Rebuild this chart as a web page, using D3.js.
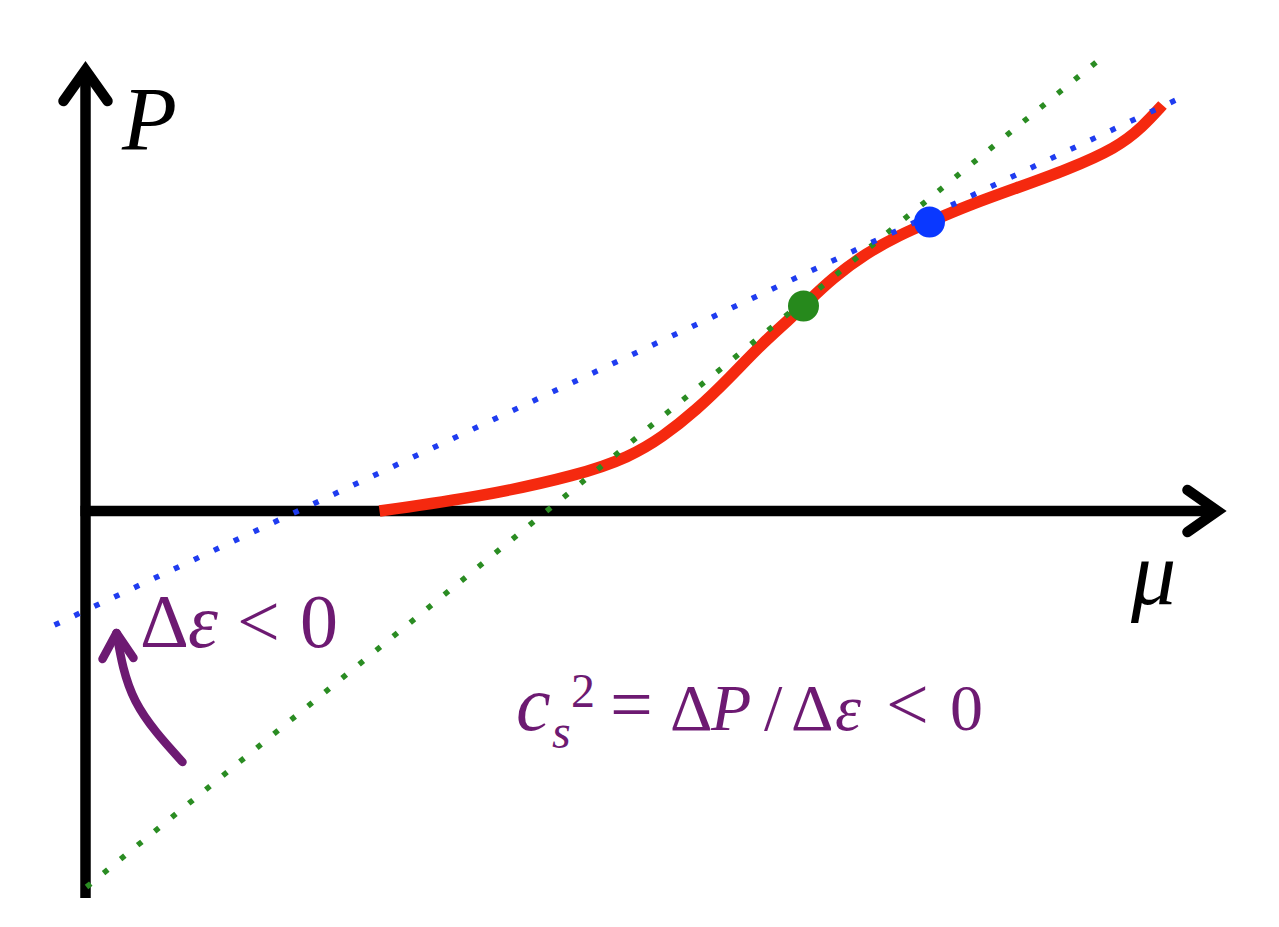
<!DOCTYPE html>
<html>
<head>
<meta charset="utf-8">
<script src="https://cdn.jsdelivr.net/npm/d3@7"></script>
<style>
  html, body { margin: 0; padding: 0; background: #fff; }
  svg { display: block; }
  text { font-family: "Liberation Serif", "Times New Roman", serif; }
</style>
</head>
<body>
<svg id="svg1" width="1279" height="927"></svg>
<script>
(function(){
    'use strict';

    // Red P(mu) curve
    const muCurve = [2.94, 3.94, 4.94, 5.44, 5.77, 6.11, 6.44, 6.77, 7.11, 7.21, 7.47, 7.81, 8.14, 8.44, 8.81, 9.31, 9.81, 10.31, 10.57, 10.77];
    const pCurve  = [0.00, 0.14, 0.36, 0.54, 0.74, 1.01, 1.33, 1.68, 1.98, 2.08, 2.33, 2.58, 2.76, 2.89, 3.05, 3.23, 3.41, 3.63, 3.84, 4.06];

    // Dotted tangent lines (end points)
    const muGreen = [0.01, 10.17];
    const pGreen  = [-3.76, 4.54];
    const muBlue  = [-0.31, 10.99];
    const pBlue   = [-1.14, 4.15];

    // Marked points
    const muPoints = [7.18, 8.44];
    const pPoints  = [2.05, 2.89];
    const pointColors = ['#26891c', '#0a38ff'];

    // Annotation arrow path (in mu, P units)
    const muNote = [0.97, 0.50, 0.31];
    const pNote  = [-2.51, -1.90, -1.22];

    // Axis extents
    const muAxis = [-0.05, 11.32];
    const pAxis  = [-3.87, 4.41];

    const purple = '#6d1a72';

    const x = d3.scaleLinear().domain([0, 11.42]).range([85.5, 1227.5]);
    const y = d3.scaleLinear().domain([-3.87, 4.51]).range([898, 60]);

    const svg = d3.select('#svg1');
    const zip = (a, b) => a.map((v, i) => [v, b[i]]);

    // Axes
    const axes = svg.append('g')
        .attr('stroke', '#000')
        .attr('stroke-width', 10.5)
        .attr('fill', 'none');

    axes.append('line')
        .attr('x1', x(0)).attr('x2', x(0))
        .attr('y1', y(pAxis[0])).attr('y2', y(pAxis[1]));
    axes.append('line')
        .attr('x1', x(muAxis[0])).attr('x2', x(muAxis[1]))
        .attr('y1', y(0)).attr('y2', y(0));

    // Arrow heads
    const vx = x(0), vy = y(pAxis[1]);
    axes.append('path')
        .attr('d', `M${vx - 22},${vy + 31}L${vx},${vy}L${vx + 22},${vy + 31}`)
        .attr('stroke-linecap', 'round')
        .attr('stroke-linejoin', 'miter');
    const hx = x(muAxis[1]), hy = y(0);
    axes.append('path')
        .attr('d', `M${hx - 30},${hy - 21}L${hx},${hy}L${hx - 30},${hy + 21}`)
        .attr('stroke-linecap', 'round')
        .attr('stroke-linejoin', 'miter');

    // Red curve
    const line = d3.line()
        .x(d => x(d[0]))
        .y(d => y(d[1]))
        .curve(d3.curveBasis);

    svg.append('path')
        .datum(zip(muCurve, pCurve))
        .attr('d', line)
        .attr('fill', 'none')
        .attr('stroke', '#f5290f')
        .attr('stroke-width', 11.5);

    // Dotted lines
    const straight = d3.line().x(d => x(d[0])).y(d => y(d[1]));
    [[muGreen, pGreen, '#2a8c22'], [muBlue, pBlue, '#1f3cf0']].forEach(([m, p, c]) => {
        svg.append('path')
            .datum(zip(m, p))
            .attr('d', straight)
            .attr('fill', 'none')
            .attr('stroke', c)
            .attr('stroke-width', 5.5)
            .attr('stroke-dasharray', '5.5 16.5');
    });

    // Points
    svg.append('g')
        .selectAll('circle')
        .data(zip(muPoints, pPoints))
        .enter()
        .append('circle')
            .attr('cx', d => x(d[0]))
            .attr('cy', d => y(d[1]))
            .attr('r', 15.5)
            .attr('fill', (d, i) => pointColors[i]);

    // Purple annotation arrow
    svg.append('path')
        .datum(zip(muNote, pNote))
        .attr('d', d3.line().x(d => x(d[0])).y(d => y(d[1])).curve(d3.curveNatural))
        .attr('fill', 'none')
        .attr('stroke', purple)
        .attr('stroke-width', 8.5)
        .attr('stroke-linecap', 'round');
    const tx = x(muNote[2]), ty = y(pNote[2]);
    svg.append('path')
        .attr('d', `M${tx - 14},${ty + 26}L${tx},${ty}L${tx + 17},${ty + 25}`)
        .attr('fill', 'none')
        .attr('stroke', purple)
        .attr('stroke-width', 8.5)
        .attr('stroke-linecap', 'round')
        .attr('stroke-linejoin', 'round');

    // Axis labels
    svg.append('text')
        .attr('x', 122).attr('y', 150)
        .attr('font-size', 90)
        .attr('font-style', 'italic')
        .text('P');
    svg.append('text')
        .attr('x', 1131).attr('y', 604)
        .attr('font-size', 90)
        .attr('font-style', 'italic')
        .text('μ');

    // Δε < 0
    const t1 = svg.append('text')
        .attr('y', 647)
        .attr('fill', purple)
        .attr('font-size', 76);
    t1.append('tspan').attr('x', 140).text('Δ');
    t1.append('tspan').attr('x', 188).attr('font-style', 'italic').text('ε');
    t1.append('tspan').attr('x', 237).text('<');
    t1.append('tspan').attr('x', 300).text('0');

    // c_s^2 = ΔP/Δε < 0
    const t2 = svg.append('text')
        .attr('y', 730)
        .attr('fill', purple)
        .attr('font-size', 66);
    t2.append('tspan').attr('x', 516).attr('font-size', 78).attr('font-style', 'italic').text('c');
    t2.append('tspan').attr('x', 552).attr('y', 748).attr('font-size', 48).attr('font-style', 'italic').text('s');
    t2.append('tspan').attr('x', 571).attr('y', 707).attr('font-size', 48).text('2');
    t2.append('tspan').attr('x', 610).attr('y', 730).attr('font-size', 76).text('=');
    t2.append('tspan').attr('x', 670).text('Δ');
    t2.append('tspan').attr('x', 711).attr('font-style', 'italic').text('P');
    t2.append('tspan').attr('x', 764).text('/');
    t2.append('tspan').attr('x', 791).text('Δ');
    t2.append('tspan').attr('x', 835).attr('font-style', 'italic').text('ε');
    t2.append('tspan').attr('x', 886).attr('font-size', 76).text('<');
    t2.append('tspan').attr('x', 950).text('0');
})();
</script>
</body>
</html>
